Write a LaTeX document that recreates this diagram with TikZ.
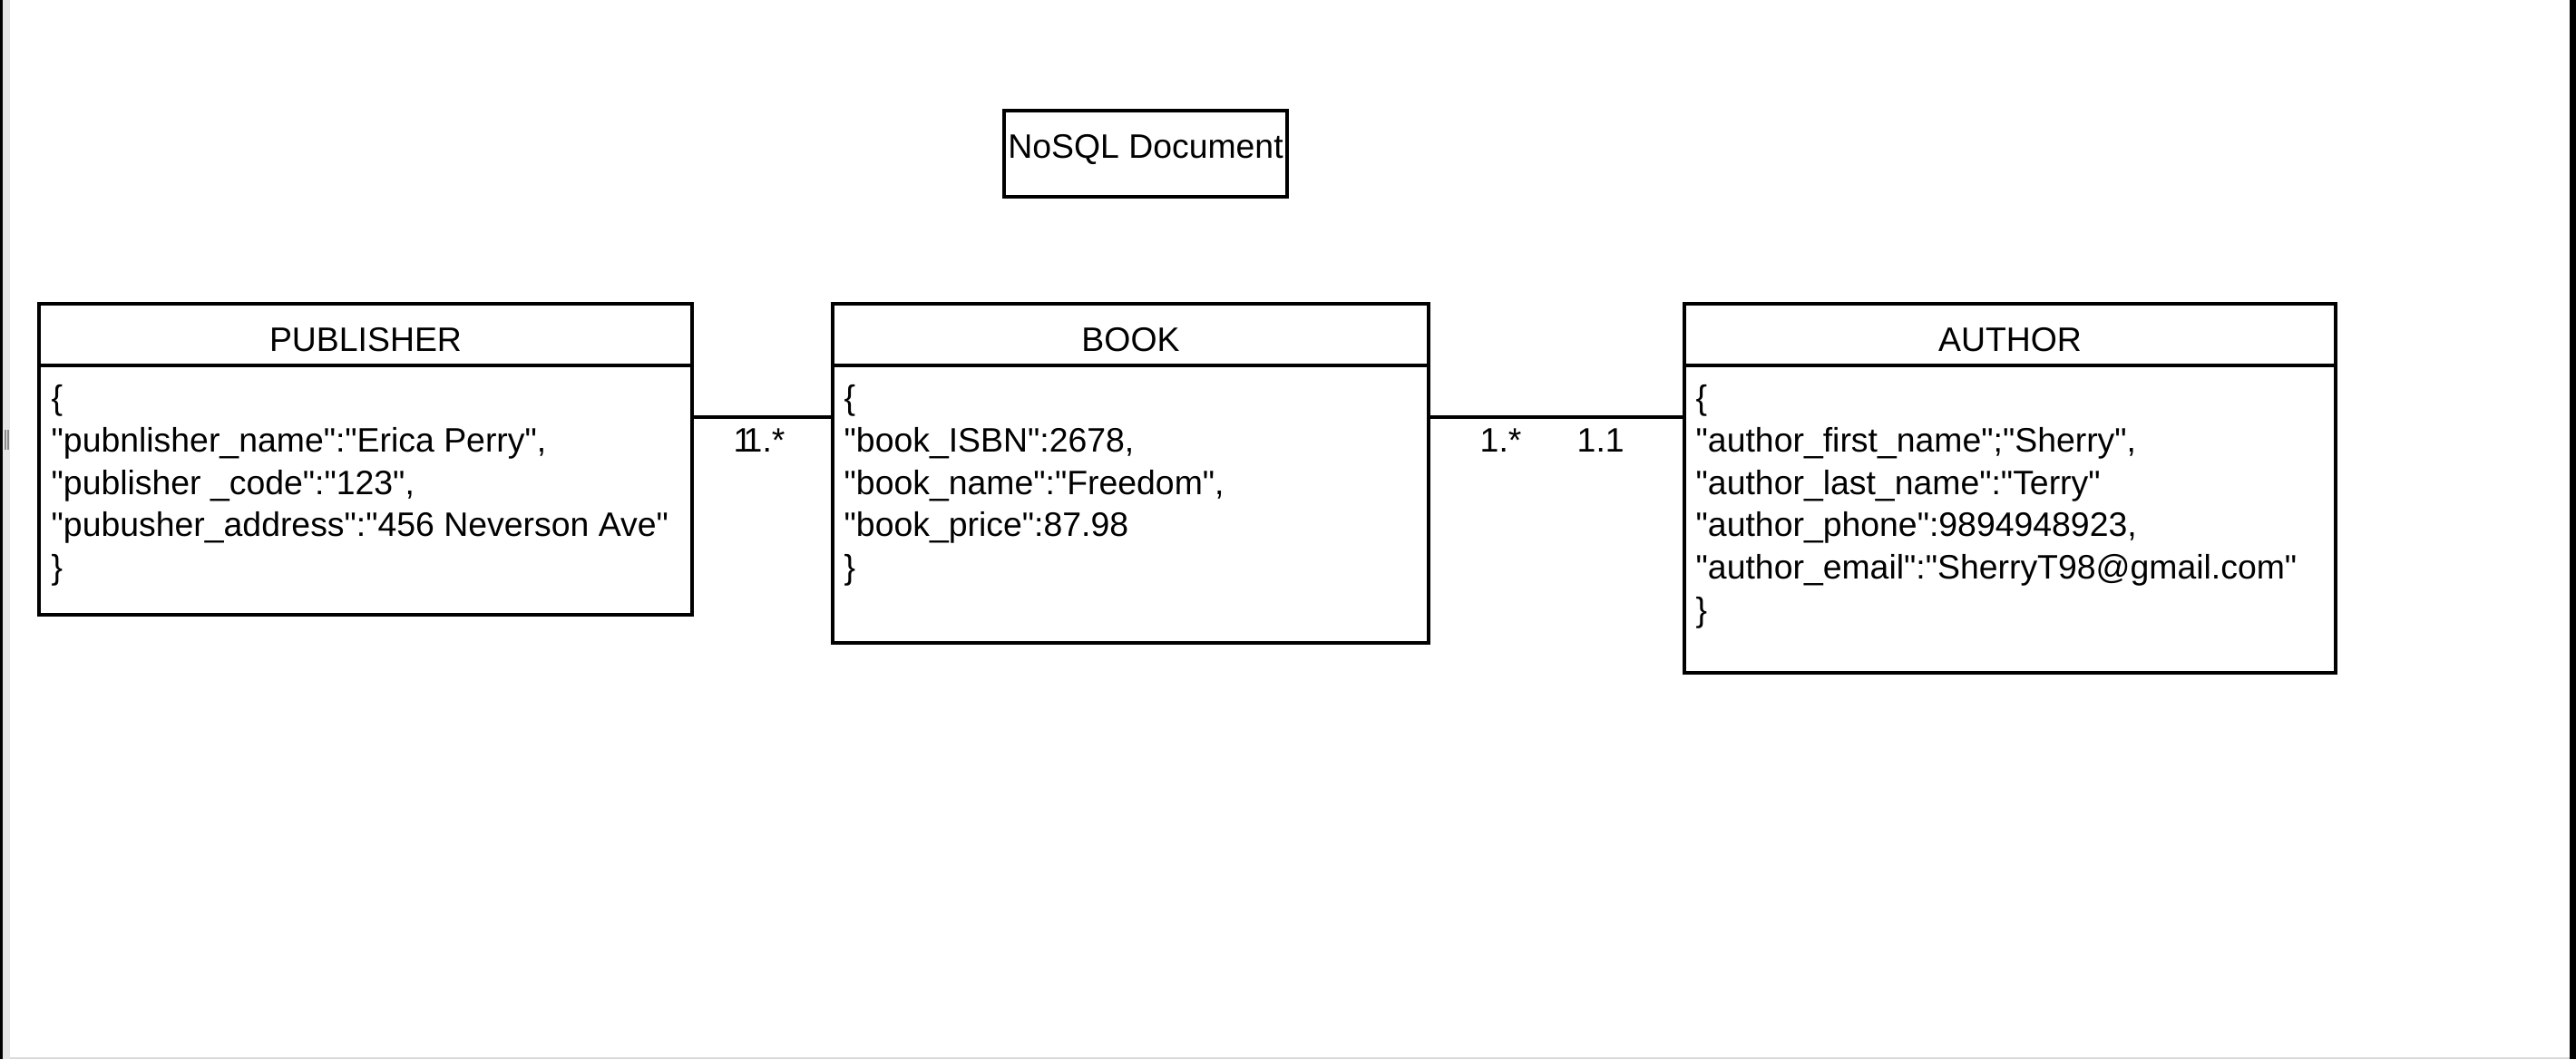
\documentclass[tikz,border=0pt]{standalone}
\usepackage{fontspec}
\setmainfont{Liberation Sans}[Ligatures=TeXOff]
\usepackage{tikz}
\usetikzlibrary{positioning}

\tikzset{
    entityhead/.style={draw, line width=0.9pt, inner sep=0pt, outer sep=0pt, minimum height=0.68cm,
        text height=0.36cm, text depth=0cm},
    entitybody/.style={draw, line width=0.9pt, inner sep=0pt, outer sep=0pt},
    fields/.style={align=left, inner sep=0pt, anchor=north west},
    card/.style={inner sep=0pt, anchor=base west}
}

\begin{document}
\begin{tikzpicture}[font=\fontsize{10.64pt}{13.29pt}\selectfont]
    \useasboundingbox (0,0) rectangle (28.4,-11.68);

    % Window edges
    \fill[black] (0,0) rectangle (0.03,-11.68);
    \fill[black!10] (0.03,0) rectangle (0.11,-11.68);
    \fill[black] (28.33,0) rectangle (28.4,-11.68);
    \fill[black!15] (0.11,-11.655) rectangle (28.33,-11.68);
    \draw[black!45, line width=0.5pt] (0.06,-4.74) -- (0.06,-4.96) (0.09,-4.74) -- (0.09,-4.96);

    % Title
    \node[draw, line width=0.9pt, inner sep=0pt, minimum width=3.12cm, minimum height=0.95cm,
        text height=0.27cm, text depth=0.18cm] (title) at (12.63,-1.695) {NoSQL Document};

    % PUBLISHER
    \node[entityhead, minimum width=7.2cm, anchor=north west] (pubhead) at (0.43,-3.35) {PUBLISHER};
    \node[entitybody, minimum width=7.2cm, minimum height=2.75cm, anchor=north west] (pubbody) at (pubhead.south west) {};
    \node[fields] (pubfields) at ([xshift=0.13cm, yshift=-0.21cm]pubbody.north west)
        {\{\\
        "pubnlisher\_name":"Erica Perry",\\
        "publisher \_code":"123",\\
        "pubusher\_address":"456 Neverson Ave"\\
        \}};

    % BOOK
    \node[entityhead, minimum width=6.57cm, anchor=north west] (bookhead) at (9.18,-3.35) {BOOK};
    \node[entitybody, minimum width=6.57cm, minimum height=3.06cm, anchor=north west] (bookbody) at (bookhead.south west) {};
    \node[fields] (bookfields) at ([xshift=0.12cm, yshift=-0.21cm]bookbody.north west)
        {\{\\
        "book\_ISBN":2678,\\
        "book\_name":"Freedom",\\
        "book\_price":87.98\\
        \}};

    % AUTHOR
    \node[entityhead, minimum width=7.18cm, anchor=north west] (authhead) at (18.57,-3.35) {AUTHOR};
    \node[entitybody, minimum width=7.18cm, minimum height=3.39cm, anchor=north west] (authbody) at (authhead.south west) {};
    \node[fields] (authfields) at ([xshift=0.12cm, yshift=-0.21cm]authbody.north west)
        {\{\\
        "author\_first\_name";"Sherry",\\
        "author\_last\_name":"Terry"\\
        "author\_phone":9894948923,\\
        "author\_email":"SherryT98@gmail.com"\\
        \}};

    % Relations
    \draw[line width=0.9pt] ([yshift=-0.57cm]pubbody.north east) -- ([yshift=-0.57cm]bookbody.north west);
    \draw[line width=0.9pt] ([yshift=-0.57cm]bookbody.north east) -- ([yshift=-0.57cm]authbody.north west);

    % Cardinalities
    \node[card] (pubone) at (8.08,-4.98) {1};
    \node[card] (pubmany) at (8.19,-4.98) {1.*};
    \node[card] (bookmany) at (16.31,-4.98) {1.*};
    \node[card] (authone) at (17.38,-4.98) {1.1};
\end{tikzpicture}
\end{document}
